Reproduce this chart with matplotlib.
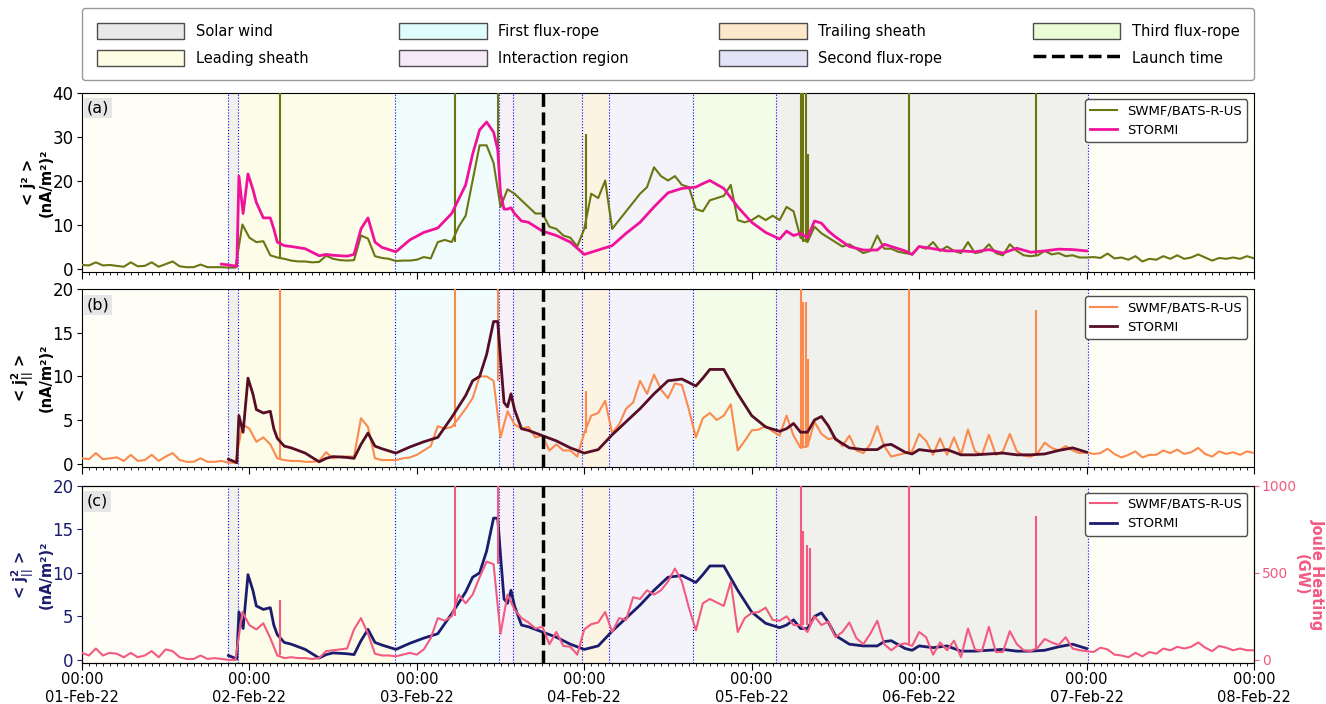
import numpy as np
import pandas as pd
import matplotlib
matplotlib.use('Agg')
import matplotlib.pyplot as plt
import matplotlib.dates as mdates
from matplotlib.patches import Patch
from matplotlib.lines import Line2D

plt.rcParams['mathtext.default'] = 'bf'

start = pd.Timestamp('2022-02-01 00:00')

# SWMF/BATS-R-US, hourly from 01-Feb 00:00 to 08-Feb 00:00
hours = np.arange(169)
swmf_j2 = [0.8, 0.7, 1.4, 0.7, 0.8, 0.6, 0.4, 1.4, 0.5, 0.6,
           1.4, 0.4, 1.0, 1.6, 0.5, 0.3, 0.3, 0.9, 0.3, 0.3,
           0.3, 0.2, 0.2, 10.0, 7.0, 6.0, 6.2, 3.0, 2.5, 2.2,
           1.8, 1.6, 1.6, 1.4, 1.5, 2.9, 2.2, 1.9, 1.8, 1.9,
           7.5, 6.8, 2.8, 2.4, 2.2, 1.7, 1.8, 1.8, 2.0, 2.6,
           2.3, 6.0, 6.5, 6.0, 9.5, 12.0, 20.0, 28.0, 28.0, 24.0,
           14.0, 18.0, 17.0, 15.5, 14.0, 12.5, 12.5, 9.5, 9.0, 7.5,
           7.0, 5.0, 9.0, 17.0, 16.0, 20.0, 9.0, 11.0, 13.0, 15.0,
           17.0, 18.5, 23.0, 21.0, 20.0, 21.0, 19.0, 18.5, 13.5, 13.0,
           15.5, 16.0, 16.5, 19.0, 11.0, 10.5, 11.0, 12.0, 11.0, 12.0,
           11.0, 14.0, 13.0, 7.0, 6.0, 9.5, 8.0, 7.0, 6.0, 5.0,
           5.5, 4.5, 3.5, 4.0, 7.5, 4.5, 4.5, 3.8, 3.5, 3.2,
           5.0, 4.5, 6.0, 4.0, 5.0, 4.0, 3.5, 6.0, 3.5, 3.8,
           5.5, 3.5, 3.0, 5.5, 4.0, 3.0, 2.8, 3.0, 4.0, 3.2,
           3.5, 2.8, 3.0, 2.5, 2.5, 2.6, 2.4, 3.4, 2.3, 2.5,
           2.0, 2.8, 1.6, 2.2, 2.0, 2.8, 2.2, 3.0, 2.2, 2.5,
           3.2, 2.5, 1.8, 2.4, 2.2, 2.5, 2.2, 2.8, 2.3]
swmf_jpar = [0.6, 0.5, 1.2, 0.5, 0.6, 0.7, 0.3, 1.0, 0.3, 0.4,
             1.0, 0.3, 0.8, 1.2, 0.4, 0.2, 0.2, 0.6, 0.2, 0.2,
             0.3, 0.1, 0.1, 4.5, 4.0, 2.5, 3.0, 2.2, 0.6, 0.4,
             0.3, 0.3, 0.2, 0.2, 0.3, 1.3, 0.6, 0.8, 0.8, 0.8,
             5.2, 4.2, 0.6, 0.4, 0.4, 0.4, 0.6, 0.7, 1.0, 1.5,
             2.0, 4.3, 4.0, 4.2, 5.2, 6.3, 7.5, 10.0, 10.0, 9.5,
             3.0, 6.0, 4.5, 4.0, 4.2, 3.0, 3.2, 1.5, 2.2, 1.5,
             1.5, 0.8, 3.5, 5.5, 5.8, 7.2, 3.5, 4.5, 6.3, 7.0,
             9.5, 8.0, 10.2, 8.5, 7.5, 9.2, 9.0, 6.2, 3.0, 5.2,
             5.8, 5.0, 5.5, 6.8, 1.5, 2.6, 3.8, 3.9, 4.3, 3.7,
             3.2, 5.5, 3.2, 1.8, 2.0, 4.8, 3.4, 2.8, 3.0, 2.0,
             3.2, 1.5, 1.2, 2.2, 4.3, 2.0, 0.8, 1.0, 1.2, 1.4,
             3.4, 2.6, 1.0, 2.9, 1.0, 3.0, 1.0, 3.9, 1.4, 1.0,
             3.3, 1.0, 1.4, 3.4, 1.4, 0.9, 0.8, 1.2, 2.4, 1.8,
             1.5, 2.0, 1.5, 1.2, 1.3, 1.1, 1.2, 1.7, 1.1, 0.7,
             1.0, 1.4, 0.7, 1.0, 1.0, 1.5, 1.2, 1.6, 1.1, 1.3,
             1.8, 1.1, 0.8, 1.4, 1.1, 1.3, 1.0, 1.4, 1.2]
swmf_joule = [40, 25, 65, 25, 40, 35, 15, 40, 15, 25,
              50, 15, 60, 50, 15, 5, 5, 25, 5, 10,
              5, 0, 0, 275, 200, 175, 210, 125, 25, 10,
              15, 10, 10, 5, 10, 50, 55, 60, 65, 175,
              240, 150, 35, 25, 25, 20, 30, 40, 30, 60,
              125, 240, 225, 250, 375, 325, 375, 475, 565, 550,
              150, 375, 290, 240, 215, 180, 190, 90, 160, 80,
              75, 30, 175, 205, 215, 275, 160, 240, 230, 360,
              350, 400, 375, 400, 450, 525, 450, 300, 170, 325,
              350, 330, 310, 450, 160, 240, 270, 275, 300, 230,
              225, 250, 200, 200, 160, 250, 200, 220, 130, 160,
              215, 125, 90, 150, 225, 90, 55, 85, 95, 80,
              160, 130, 30, 100, 55, 110, 15, 180, 60, 50,
              190, 45, 45, 165, 90, 55, 50, 70, 120, 100,
              85, 130, 65, 55, 50, 45, 70, 60, 30, 25,
              15, 40, 20, 45, 35, 65, 55, 75, 65, 75,
              100, 70, 50, 80, 70, 55, 65, 55, 55]

# short SWMF spikes (hour, base, top)
spike_hours = [28.4, 53.5, 59.6, 72.3, 103.0, 103.4, 103.8, 104.05, 118.6, 136.8]
spike_a_low = [2.5, 6.0, 25.0, 9.0, 7.0, 6.0, 6.0, 6.0, 3.5, 3.0]
spike_a_high = [41, 41, 41, 30.5, 41, 41, 41, 26, 41, 41]
spike_b_low = [0.5, 4.2, 9.5, 3.5, 1.8, 1.8, 1.8, 2.0, 1.4, 1.0]
spike_b_high = [21, 21, 21, 8.3, 21, 18.5, 18.5, 12, 21, 17.6]
spike_c_hours = [28.4, 53.5, 59.6, 103.0, 103.4, 103.9, 104.3, 118.6, 136.8]
spike_c_low = [25, 250, 550, 200, 200, 200, 200, 90, 60]
spike_c_high = [345, 1050, 1050, 1050, 740, 660, 645, 1050, 828]

# STORMI
stormi_hours = [20, 21, 22.2, 22.5, 23.1, 23.8, 24.5, 25, 26, 27, 27.5, 28, 29, 30, 32,
                34, 35, 36, 38, 39, 40, 41, 42, 43, 45, 47, 49, 51, 53, 55,
                56, 57, 58, 59, 59.6, 60, 60.5, 61, 61.5, 62, 63, 64, 66, 68, 70,
                72, 74, 76, 78, 80, 82, 84, 86, 88, 89, 90, 92, 94, 96, 98,
                100, 101, 102, 103, 104, 105, 106, 107, 108, 110, 112, 114, 115, 116, 118,
                119, 120, 122, 124, 126, 128, 130, 132, 134, 136, 138, 140, 142, 144]
stormi_j2 = [1.0, 0.8, 0.5, 21, 12.5, 21.5, 18, 15, 11.5, 11.5, 9, 6, 5.2, 5, 4.5,
             2.9, 3.2, 3.0, 2.8, 3.2, 9, 11.5, 6, 4.8, 3.8, 6.5, 8.2, 9.2, 12.5, 19,
             26, 31.5, 33.3, 31, 27, 17, 13.5, 13.5, 13.8, 12.5, 10.8, 10.5, 8.5, 7.5, 6,
             3.2, 4.2, 5.2, 8, 10.5, 14, 17.2, 18.2, 18.5, 19.3, 20, 18.2, 14, 10.5, 8.2,
             6.7, 8.5, 7.5, 8, 7, 10.8, 10.3, 8.5, 7.2, 5, 4.2, 4.2, 5.5, 5, 4,
             3.2, 5, 4.5, 4, 4, 3.8, 4.3, 3.5, 4.6, 3.7, 4.0, 4.4, 4.3, 4.0]
stormi_jpar = [np.nan, 0.5, 0.1, 5.5, 3.6, 9.8, 8.0, 6.2, 5.8, 6.0, 4.0, 2.9, 2.0, 1.8, 1.2,
               0.2, 0.6, 0.8, 0.7, 0.6, 2.2, 3.5, 2.0, 1.7, 1.2, 1.9, 2.5, 3.0, 5.3, 7.8,
               9.5, 10.0, 12.5, 16.3, 16.3, 12, 7, 6.5, 8.0, 6.2, 4.0, 3.8, 3.2, 2.6, 1.8,
               1.2, 1.6, 3.3, 4.8, 6.3, 8.0, 9.5, 9.7, 8.9, 9.8, 10.8, 10.8, 8.0, 5.5, 4.2,
               3.7, 4.0, 4.6, 3.6, 3.6, 5.0, 5.4, 4.3, 2.8, 1.8, 1.6, 1.6, 2.1, 2.2, 1.3,
               1.1, 1.6, 1.4, 1.6, 1.0, 1.0, 1.1, 1.2, 1.0, 1.0, 1.1, 1.5, 1.8, 1.3]

# event intervals
bounds = [20.9, 22.3, 44.9, 59.8, 61.75, 71.65, 75.55, 87.55, 99.5, 144.25]
region_names = ['Solar wind', 'Leading sheath', 'First flux-rope', 'Interaction region',
                'Solar wind', 'Trailing sheath', 'Second flux-rope', 'Third flux-rope',
                'Solar wind']
launch_hour = 66.1

legend_names = ['Solar wind', 'Leading sheath', 'First flux-rope', 'Interaction region',
                'Trailing sheath', 'Second flux-rope', 'Third flux-rope']
legend_colors = ['#e8e8e8', '#fdfde3', '#e0fdfd', '#f5e8f7', '#fde8cc', '#e3e3f8', '#eafcd6']
span_colors = {'Solar wind': '#f0f0ec', 'Leading sheath': '#fcfce9', 'First flux-rope': '#f0fdfc',
               'Interaction region': '#f8f1f8', 'Trailing sheath': '#fdf3e3',
               'Second flux-rope': '#f3f3f9', 'Third flux-rope': '#f3fce9'}


def T(h):
    return start + pd.to_timedelta(np.asarray(h, dtype=float), unit='h')


fig = plt.figure(figsize=(13.26, 7.04), dpi=100)
ax_a = fig.add_axes([0.0618, 0.6136, 0.8839, 0.2550])
ax_b = fig.add_axes([0.0618, 0.3366, 0.8839, 0.2525])
ax_c = fig.add_axes([0.0618, 0.0578, 0.8839, 0.2519])

for ax, lab in zip([ax_a, ax_b, ax_c], ['(a)', '(b)', '(c)']):
    ax.set_facecolor('#fefef7')
    for lo, hi, name in zip(bounds[:-1], bounds[1:], region_names):
        ax.axvspan(T(lo), T(hi), color=span_colors[name], lw=0, zorder=0)
    for b in bounds:
        ax.axvline(T(b), color='blue', ls=':', lw=0.8, zorder=1)
    ax.axvline(T(launch_hour), color='black', ls='--', lw=2.5, zorder=6)
    ax.set_xlim(start, start + pd.Timedelta(days=7))
    ax.xaxis.set_major_locator(mdates.DayLocator())
    ax.xaxis.set_minor_locator(mdates.HourLocator())
    ax.xaxis.set_major_formatter(mdates.DateFormatter('%H:%M\n%d-%b-%y'))
    ax.tick_params(axis='x', which='major', length=5, labelsize=10.5, pad=1.5)
    ax.tick_params(axis='x', which='minor', length=2.5)
    ax.tick_params(axis='y', labelsize=12, pad=2.5)
    ax.yaxis.set_label_coords(-0.024, 0.5)
    ax.text(0.004, 0.955, lab, transform=ax.transAxes, fontsize=11.5, va='top', ha='left',
            bbox=dict(facecolor='#e6e6e6', edgecolor='none', pad=2), zorder=10)

lab_j2 = '< j² >\n(nA/m²)²'
lab_jpar = '< j$_{||}^{2}$ >\n(nA/m²)²'

# (a)
ax_a.plot(T(hours), swmf_j2, color='#6b7512', lw=1.5, label='SWMF/BATS-R-US', zorder=3)
ax_a.vlines(T(spike_hours), spike_a_low, spike_a_high, color='#6b7512', lw=1.5, zorder=3)
ax_a.plot(T(stormi_hours), stormi_j2, color='#f0129a', lw=2, label='STORMI', zorder=4)
ax_a.set_ylim(-0.8, 40)
ax_a.set_yticks([0, 10, 20, 30, 40])
ax_a.set_ylabel(lab_j2, fontsize=10.5, fontweight='bold')
ax_a.legend(loc='upper right', fontsize=9.5, framealpha=1, edgecolor='0.3')
ax_a.tick_params(labelbottom=False)

# (b)
ax_b.plot(T(hours), swmf_jpar, color='#fa8a4e', lw=1.5, label='SWMF/BATS-R-US', zorder=3)
ax_b.vlines(T(spike_hours), spike_b_low, spike_b_high, color='#fa8a4e', lw=1.5, zorder=3)
ax_b.plot(T(stormi_hours), stormi_jpar, color='#560d25', lw=2, label='STORMI', zorder=4)
ax_b.set_ylim(-0.4, 20)
ax_b.set_yticks([0, 5, 10, 15, 20])
ax_b.set_ylabel(lab_jpar, fontsize=10.5, fontweight='bold')
ax_b.legend(loc='upper right', fontsize=9.5, framealpha=1, edgecolor='0.3')
ax_b.tick_params(labelbottom=False)

# (c)
navy = '#1c1c6e'
pink = '#f25a82'
l_st, = ax_c.plot(T(stormi_hours), stormi_jpar, color=navy, lw=2, label='STORMI', zorder=4)
ax_c.set_ylim(-0.4, 20)
ax_c.set_yticks([0, 5, 10, 15, 20])
ax_c.tick_params(axis='y', colors=navy)
ax_c.set_ylabel(lab_jpar, fontsize=10.5, fontweight='bold', color=navy)
ax2 = ax_c.twinx()
l_sw, = ax2.plot(T(hours), swmf_joule, color=pink, lw=1.5, label='SWMF/BATS-R-US', zorder=3)
ax2.vlines(T(spike_c_hours), spike_c_low, spike_c_high, color=pink, lw=1.5, zorder=3)
ax2.set_ylim(-20, 1000)
ax2.set_yticks([0, 500, 1000])
ax2.tick_params(axis='y', colors=pink, labelsize=10, pad=2)
ax2.set_ylabel('Joule Heating\n(GW)', rotation=270, labelpad=-2, color=pink, fontsize=10.5,
               fontweight='bold', va='bottom', linespacing=1.1)
ax2.legend([l_sw, l_st], ['SWMF/BATS-R-US', 'STORMI'], loc='upper right', fontsize=9.5,
           framealpha=1, edgecolor='0.3')

# top legend
handles = [Patch(facecolor=c, edgecolor='0.3', lw=1) for c in legend_colors]
handles.append(Line2D([], [], color='black', ls='--', lw=2.5))
labels = legend_names + ['Launch time']
fig.legend(handles, labels, ncol=4, loc='lower left', bbox_to_anchor=(0.062, 0.886, 0.884, 0.102),
           mode='expand', fontsize=10.5, handlelength=6, handleheight=1.3, labelspacing=0.75,
           frameon=True, edgecolor='0.5', borderpad=1.0, borderaxespad=0)

fig.savefig('out.png', dpi=100)
